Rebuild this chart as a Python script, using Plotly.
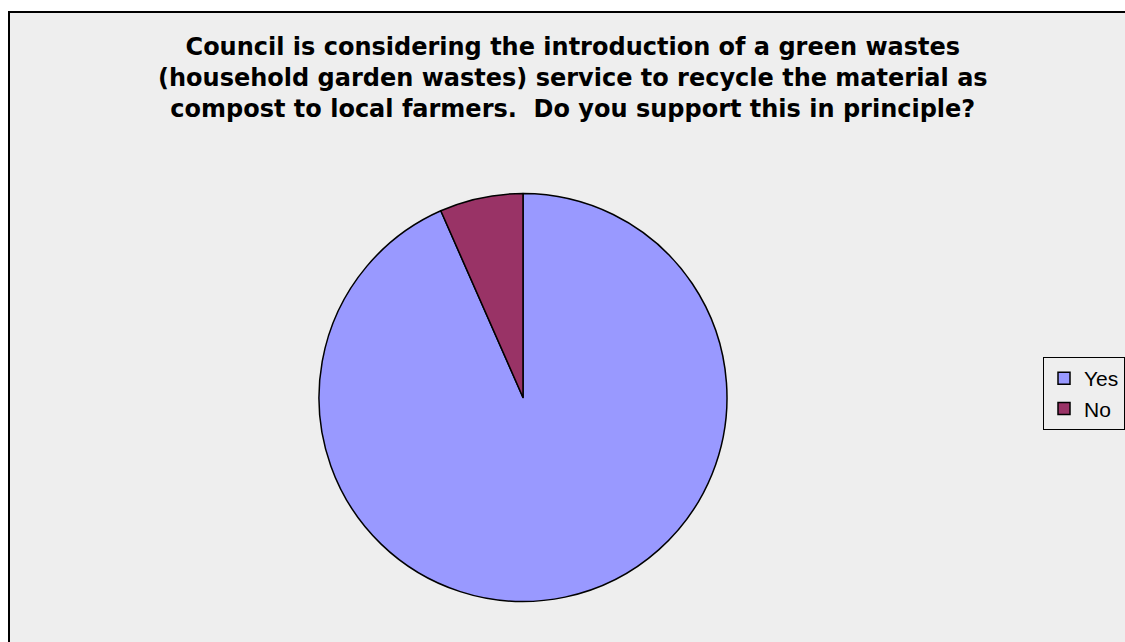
import plotly.graph_objects as go

# Survey responses (share of respondents)
labels = ["Yes", "No"]
shares = [93.4, 6.6]
slice_colors = ["#9999FF", "#993366"]

title_lines = [
    "Council is considering the introduction of a green wastes",
    "(household garden wastes) service to recycle the material as",
    "compost to local farmers.  Do you support this in principle?",
]

W, H = 1125, 642
cx, cy, r = 523, 397.5, 204

fig = go.Figure(
    go.Pie(
        labels=labels,
        values=shares,
        sort=False,
        direction="clockwise",
        rotation=0,
        textinfo="none",
        hoverinfo="label+percent",
        marker=dict(colors=slice_colors, line=dict(color="black", width=1.5)),
        domain=dict(
            x=[(cx - r) / W, (cx + r) / W],
            y=[1 - (cy + r) / H, 1 - (cy - r) / H],
        ),
    )
)

fig.update_layout(
    width=W,
    height=H,
    margin=dict(l=0, r=0, t=0, b=0),
    paper_bgcolor="white",
    plot_bgcolor="#EEEEEE",
    shapes=[
        dict(
            type="rect", xref="paper", yref="paper",
            x0=9 / W, x1=1.05, y0=-0.05, y1=1 - 12 / H,
            fillcolor="#EEEEEE", line=dict(color="black", width=2),
            layer="below",
        )
    ],
    annotations=[
        dict(
            text="<br>".join(title_lines),
            xref="paper", yref="paper",
            x=573 / W, y=1 - 31 / H,
            xanchor="center", yanchor="top",
            showarrow=False,
            align="center",
            font=dict(family="DejaVu Sans", size=24, color="black", weight="bold"),
        )
    ],
    legend=dict(
        x=1043 / W, y=1 - 357 / H,
        xanchor="left", yanchor="top",
        bgcolor="#EEEEEE",
        bordercolor="black", borderwidth=1,
        entrywidth=120,
        font=dict(family="Liberation Sans", size=21, color="black"),
    ),
    showlegend=True,
)

fig.write_html("out.html")
